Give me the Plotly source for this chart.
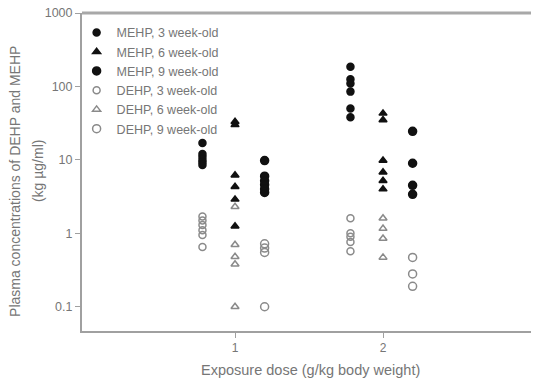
import plotly.graph_objects as go

doses = [1, 2]
series_names = ["MEHP, 3 week-old", "MEHP, 6 week-old", "MEHP, 9 week-old",
                "DEHP, 3 week-old", "DEHP, 6 week-old", "DEHP, 9 week-old"]

mehp_3wk_d1 = [17, 12, 11, 10, 9.3, 8.5]
mehp_3wk_d2 = [185, 125, 110, 85, 50, 38]
mehp_6wk_d1 = [33, 30, 6.2, 4.3, 2.9, 1.25]
mehp_6wk_d2 = [43, 35, 9.8, 6.8, 5.2, 4.0]
mehp_9wk_d1 = [9.8, 6.0, 5.2, 4.6, 4.0, 3.6]
mehp_9wk_d2 = [24.5, 9.0, 4.5, 3.4]
dehp_3wk_d1 = [1.7, 1.5, 1.3, 1.1, 0.95, 0.65]
dehp_3wk_d2 = [1.6, 1.0, 0.9, 0.76, 0.57]
dehp_6wk_d1 = [2.3, 0.7, 0.48, 0.38, 0.1]
dehp_6wk_d2 = [1.6, 1.16, 0.85, 0.47]
dehp_9wk_d1 = [0.72, 0.63, 0.55, 0.1]
dehp_9wk_d2 = [0.47, 0.28, 0.19]

y_tickvals = [0.1, 1, 10, 100, 1000]
y_ticktext = ["0.1", "1", "10", "100", "1000"]
x_tickvals = [1, 2]
x_ticktext = ["1", "2"]

y_title_line1 = "Plasma concentrations of DEHP and MEHP"
y_title_line2 = "(kg µg/ml)"
x_title = "Exposure dose (g/kg body weight)"

series_values = [
    (mehp_3wk_d1, mehp_3wk_d2),
    (mehp_6wk_d1, mehp_6wk_d2),
    (mehp_9wk_d1, mehp_9wk_d2),
    (dehp_3wk_d1, dehp_3wk_d2),
    (dehp_6wk_d1, dehp_6wk_d2),
    (dehp_9wk_d1, dehp_9wk_d2),
]

# styling: age-group offset along x, marker symbols/colours
offsets = [-0.22, 0.0, 0.2, -0.22, 0.0, 0.2]
symbols = ["circle", "triangle-up", "circle", "circle-open", "triangle-up-open", "circle-open"]
colors = ["#111111", "#111111", "#111111", "#8a8a8a", "#8a8a8a", "#8a8a8a"]
sizes = [7, 7, 8, 7, 7, 8]

TXT = "#767676"

fig = go.Figure()
for name, (v1, v2), off, sym, col, sz in zip(series_names, series_values, offsets, symbols, colors, sizes):
    xs = [doses[0] + off] * len(v1) + [doses[1] + off] * len(v2)
    ys = list(v1) + list(v2)
    fig.add_trace(go.Scatter(
        x=xs, y=ys, mode="markers", name=name,
        marker=dict(symbol=sym, size=sz, color=col, line=dict(color=col, width=1.5)),
    ))

fig.update_layout(
    width=533, height=383,
    margin=dict(l=82, r=2, t=13, b=52, autoexpand=False),
    paper_bgcolor="white", plot_bgcolor="white",
    font=dict(family="Liberation Sans, Arial, sans-serif", size=12, color=TXT),
    showlegend=True,
    legend=dict(x=-0.012, y=0.985, xanchor="left", yanchor="top",
                bgcolor="rgba(0,0,0,0)", font=dict(size=12.5, color=TXT),
                tracegroupgap=0, itemwidth=30),
    xaxis=dict(range=[-0.034, 3.0], tickvals=x_tickvals, ticktext=x_ticktext,
               showgrid=False, zeroline=False, showline=True, linecolor="#a0a0a0", linewidth=2,
               ticks="outside", ticklen=5, tickcolor="#a0a0a0", tickfont=dict(size=12)),
    yaxis=dict(type="log", range=[-1.33, 3.0], tickvals=y_tickvals, ticktext=y_ticktext,
               showgrid=False, zeroline=False, showline=True, linecolor="#a0a0a0", linewidth=2,
               ticks="outside", ticklen=5, tickcolor="#a0a0a0", tickfont=dict(size=12.5)),
    shapes=[dict(type="line", xref="paper", yref="paper", x0=0, x1=1, y0=1, y1=1,
                 line=dict(color="#a8a8a8", width=3))],
    annotations=[
        dict(text=y_title_line1, xref="paper", yref="paper", x=-0.149, y=0.469,
             xanchor="center", yanchor="middle",
             textangle=-90, showarrow=False, font=dict(size=14, color=TXT)),
        dict(text=y_title_line2, xref="paper", yref="paper", x=-0.098, y=0.506,
             xanchor="center", yanchor="middle",
             textangle=-90, showarrow=False, font=dict(size=14, color=TXT)),
        dict(text=x_title, xref="paper", yref="paper", x=0.51, y=-0.123,
             xanchor="center", yanchor="middle",
             showarrow=False, font=dict(size=14.5, color=TXT)),
    ],
)

fig.write_html("out.html", config={"displayModeBar": False},
               post_script="document.body.style.margin='0';document.body.style.overflow='hidden';")
